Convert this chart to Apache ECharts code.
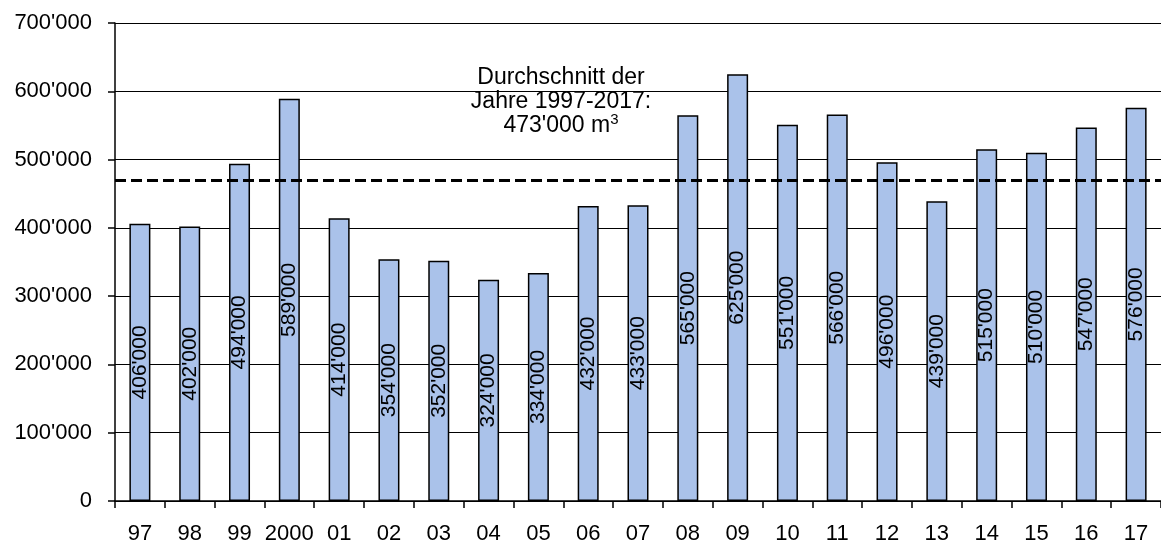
<!DOCTYPE html>
<html><head><meta charset="utf-8">
<script src="https://cdn.jsdelivr.net/npm/echarts@6/dist/echarts.min.js"></script>
<style>html,body{margin:0;padding:0;background:#fff}#c{width:1161px;height:545px}</style>
</head><body><div id="c"></div>
<script>
const categories = ["97","98","99","2000","01","02","03","04","05","06","07","08","09","10","11","12","13","14","15","16","17"];
const volumes = [406000,402000,494000,589000,414000,354000,352000,324000,334000,432000,433000,565000,625000,551000,566000,496000,439000,515000,510000,547000,576000];
const averageLineValue = 470000;
const annotationLines = ["Durchschnitt der","Jahre 1997-2017:","473'000 m{sup|3}"];

const fmt = v => String(v).replace(/\B(?=(\d{3})+(?!\d))/g, "'");
const FONT = "Liberation Sans, Arial, sans-serif";

const chart = echarts.init(document.getElementById('c'), null, {renderer:'canvas'});
chart.setOption({
  animation: false,
  backgroundColor: '#fff',
  grid: {left: 115, top: 23, width: 1058, height: 480},
  xAxis: {
    type: 'category', data: categories,
    axisLine: {show: true, lineStyle: {color: '#000', width: 1.5}},
    axisTick: {show: true, alignWithLabel: false, length: 7, lineStyle: {color: '#000', width: 1.5}},
    axisLabel: {color: '#000', fontSize: 22, fontFamily: FONT, margin: 22, interval: 0}
  },
  yAxis: {
    type: 'value', min: 0, max: 700000, interval: 100000,
    axisLine: {show: true, lineStyle: {color: '#000', width: 1.5}},
    axisTick: {show: true, length: 7, lineStyle: {color: '#000', width: 1.5}},
    axisLabel: {color: '#000', fontSize: 22, fontFamily: FONT, margin: 23, formatter: fmt},
    splitLine: {show: true, lineStyle: {color: '#000', width: 1.2}}
  },
  series: [{
    type: 'bar', data: volumes, barWidth: 21,
    itemStyle: {color: '#aac2ea', borderColor: '#000', borderWidth: 1.5},
    label: {show: true, position: 'inside', rotate: 90, offset: [0, 0], color: '#000', fontSize: 21, fontFamily: FONT, formatter: p => fmt(p.value)},
    markLine: {
      silent: true, symbol: 'none',
      label: {show: false},
      lineStyle: {color: '#000', width: 3, type: [11, 5]},
      data: [{yAxis: averageLineValue}]
    }
  }],
  graphic: [{
    type: 'group', z: 100,
    children: [
      {type: 'rect', shape: {x: 443, y: 58, width: 225, height: 84}, style: {fill: '#fff'}},
      {type: 'text', x: 561, y: 66, style: {
        text: annotationLines.join('\n'), fill: '#000', font: '23px ' + FONT,
        align: 'center', verticalAlign: 'top', lineHeight: 24,
        rich: {sup: {fontSize: 15, fontFamily: FONT, fill: '#000', padding: [0, 0, 12, 0], lineHeight: 24}}
      }}
    ]
  }]
});
</script></body></html>
